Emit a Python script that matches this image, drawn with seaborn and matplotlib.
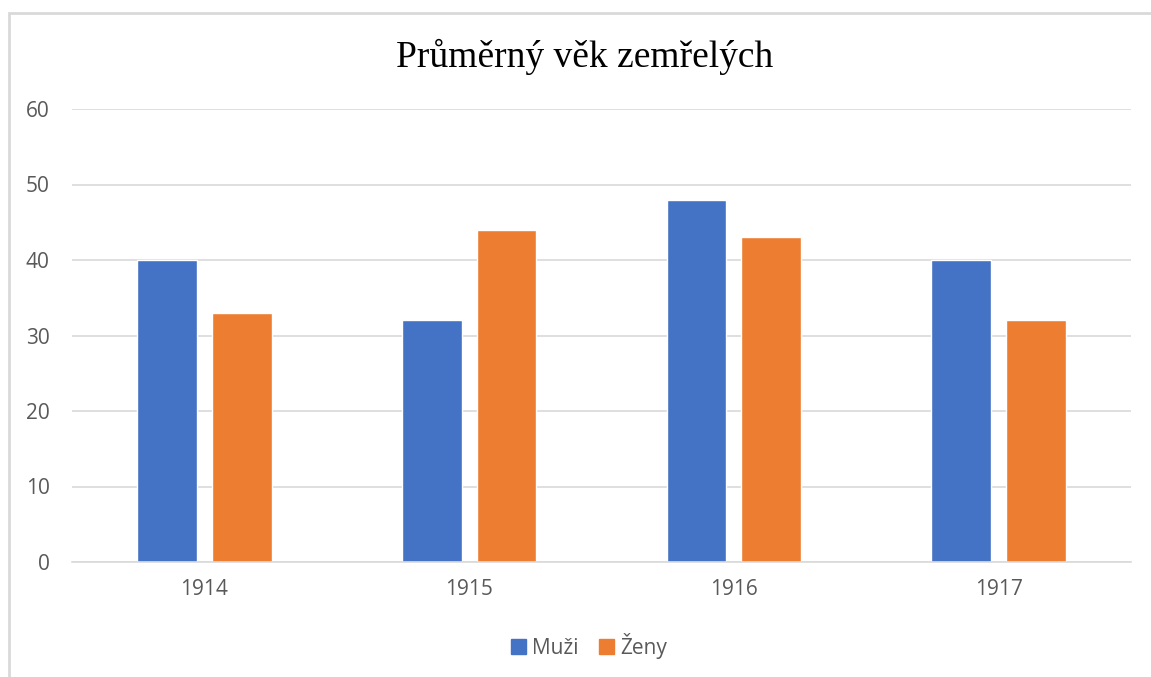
import matplotlib
matplotlib.use("Agg")
import matplotlib.pyplot as plt
import matplotlib.patches as mpatches
import seaborn as sns
import pandas as pd

years = ["1914", "1915", "1916", "1917"]
muzi = [40, 32, 48, 40]
zeny = [33, 44, 43, 32]
series = ["Muži", "Ženy"]
colors = ["#4472C4", "#ED7D31"]

data = pd.DataFrame({
    "rok": years * 2,
    "vek": muzi + zeny,
    "pohlavi": [series[0]] * len(years) + [series[1]] * len(years),
})

sns.set_theme(style="white")
plt.rcParams['font.family'] = ['Open Sans', 'DejaVu Sans']

W, H = 1151, 677
fig = plt.figure(figsize=(W / 100, H / 100), dpi=100)
ax = fig.add_axes([72 / W, 115 / H, (1131 - 72) / W, (562 - 109) / H])

sns.barplot(data=data, x="rok", y="vek", hue="pohlavi", palette=colors,
            width=0.565, gap=0.2, saturation=1, ax=ax, legend=False)

ax.set_ylim(0, 60)
ax.set_yticks(range(0, 61, 10))
ax.set_xlim(-0.5, 3.5)
ax.yaxis.grid(True, color="#D9D9D9", linewidth=1.2)
ax.set_axisbelow(True)
for s in ["left", "right", "top"]:
    ax.spines[s].set_visible(False)
ax.spines["bottom"].set_color("#D9D9D9")
ax.spines["bottom"].set_linewidth(1.2)
ax.tick_params(axis="both", length=0, labelsize=15, labelcolor="#595959")
ax.tick_params(axis="y", pad=16)
ax.tick_params(axis="x", pad=12)
ax.set_xlabel("")
ax.set_ylabel("")

fig.text(585 / W, 1 - 57 / H, "Průměrný věk zemřelých", ha="center", va="center",
         fontsize=27, family=["Liberation Serif", "DejaVu Serif"], color="#000000")

handles = [mpatches.Patch(color=c, label=l) for c, l in zip(colors, series)]
fig.legend(handles=handles, loc="center", bbox_to_anchor=(589 / W, 1 - 646 / H),
           ncol=2, frameon=False, fontsize=15, handlelength=0.7, handleheight=0.7,
           handletextpad=0.3, columnspacing=1.0, labelcolor="#595959")

border = mpatches.Rectangle((8.5 / W, -0.1), 2, 1 - 12.5 / H + 0.1, transform=fig.transFigure,
                            fill=False, edgecolor="#D9D9D9", linewidth=2)
fig.patches.append(border)

fig.savefig("out.png", dpi=100)
